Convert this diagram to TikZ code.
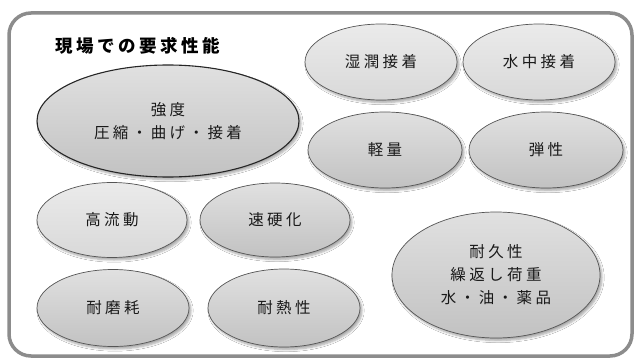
\documentclass[tikz,border=0pt]{standalone}
\usepackage{fontspec}
\setmainfont{Noto Sans CJK JP}[LetterSpace=22]
\newfontfamily\titlefont{Noto Sans CJK JP}[LetterSpace=20]
\usetikzlibrary{shapes.geometric,shadows.blur}
\definecolor{frame}{HTML}{8C8C8C}
\definecolor{edge}{HTML}{555555}
\tikzset{
  oval/.style={ellipse, draw=edge, line width=0.7pt, inner sep=0pt,
    font=\fontsize{15.5}{23}\selectfont, align=center, text=black!90,
    blur shadow={shadow xshift=2pt, shadow yshift=-2.5pt, shadow blur steps=6, shadow opacity=35}},
  light/.style={oval, top color=white!92!black, bottom color=white!85!black},
  dark/.style={oval, top color=white!88!black, bottom color=white!76!black},
}
\begin{document}
\begin{tikzpicture}[x=1pt,y=-1pt]
\useasboundingbox[fill=white] (0,0) rectangle (638,361);
\node[draw=frame, line width=3.5pt, rounded corners=22pt, minimum width=623pt, minimum height=343pt, inner sep=0pt] (frm) at (320.5,184.5) {};
\node[font=\titlefont\fontsize{17.5}{20}\bfseries\selectfont, anchor=west, inner sep=0pt] (title) at (55,46) {現場での要求性能};
\node[dark, draw=black!85, line width=1.1pt, minimum width=262pt, minimum height=112pt] (kyodo) at (168,121) {強度\\圧縮・曲げ・接着};
\node[light, minimum width=152pt, minimum height=76pt] (shitsu) at (381,62) {湿潤接着};
\node[light, minimum width=152pt, minimum height=76pt] (suichu) at (539,62) {水中接着};
\node[dark, minimum width=154pt, minimum height=76pt] (keiryo) at (385,150) {軽量};
\node[dark, minimum width=154pt, minimum height=76pt] (dansei) at (546,150) {弾性};
\node[light, minimum width=150pt, minimum height=75pt] (koryu) at (112,220) {高流動};
\node[dark, minimum width=150pt, minimum height=74pt] (sokko) at (275,220) {速硬化};
\node[dark, minimum width=152pt, minimum height=77pt] (mamo) at (113,308) {耐磨耗};
\node[dark, minimum width=152pt, minimum height=78pt] (netsu) at (284,308) {耐熱性};
\node[dark, minimum width=208pt, minimum height=126pt] (taikyu) at (496,275) {耐久性\\繰返し荷重\\水・油・薬品};
\end{tikzpicture}
\end{document}
